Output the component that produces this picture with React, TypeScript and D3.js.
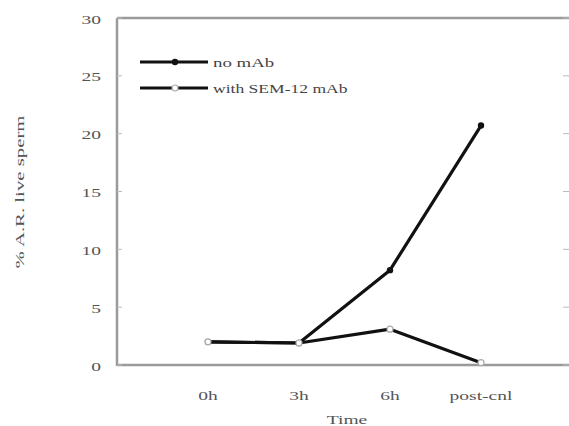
import React from 'react';
import * as d3 from 'd3';

const times = ['0h', '3h', '6h', 'post-cnl'];
const noMAb = [2.0, 1.9, 8.2, 20.7];
const withSEM12 = [2.0, 1.9, 3.1, 0.2];
const yTicks = [0, 5, 10, 15, 20, 25, 30];

const W = 569;
const H = 426;
const frame = { left: 117, right: 572, top: 18, bottom: 365 };
const font = '"Liberation Serif", "DejaVu Serif", serif';

// text drawn wider than normal, the scanned figure is stretched along the text
function Label(props: { x: number; y: number; anchor?: string; rotate?: number; stretch?: number; fill?: string; children: React.ReactNode }) {
    const { x, y, anchor = 'start', rotate = 0, stretch = 1.5, fill = '#555', children } = props;
    return (
        <text
            transform={`translate(${x}, ${y}) rotate(${rotate}) scale(${stretch}, 1)`}
            textAnchor={anchor}
            dy="0.35em"
            fontFamily={font}
            fontSize={13}
            fill={fill}
        >
            {children}
        </text>
    );
}

export default function App() {
    const x = d3.scalePoint<string>()
        .domain(times)
        .range([frame.left, frame.right])
        .padding(1);

    const y = d3.scaleLinear()
        .domain([0, 30])
        .range([frame.bottom, frame.top]);

    const line = d3.line<number>()
        .x((_, i) => x(times[i]) ?? 0)
        .y((d) => y(d));

    const axisColor = '#9a9a9a';

    return (
        <svg width={W} height={H} style={{ position: 'absolute', left: 0, top: 0, background: '#fff' }}>
            {/* frame */}
            <line x1={frame.left} y1={frame.top} x2={frame.left} y2={frame.bottom + 1} stroke={axisColor} strokeWidth={2.5} />
            <line x1={frame.left} y1={frame.bottom} x2={frame.right} y2={frame.bottom} stroke={axisColor} strokeWidth={2.5} />
            <line x1={frame.left} y1={frame.top} x2={frame.right} y2={frame.top} stroke={axisColor} strokeWidth={2.5} />

            {/* y ticks, left and right, pointing inward */}
            {yTicks.map((t) => (
                <g key={t}>
                    <line x1={frame.left} x2={frame.left + 5} y1={y(t)} y2={y(t)} stroke="#bbb" strokeWidth={1} />
                    <line x1={W - 6} x2={W} y1={y(t)} y2={y(t)} stroke="#bbb" strokeWidth={1} />
                    <Label x={101} y={y(t) + 1} anchor="end">{t}</Label>
                </g>
            ))}

            {/* x labels */}
            {times.map((t) => (
                <Label key={t} x={x(t) ?? 0} y={395} anchor="middle">{t}</Label>
            ))}
            <Label x={347} y={419} anchor="middle">Time</Label>
            <Label x={19} y={192} anchor="middle" rotate={-90} stretch={1.6}>% A.R. live sperm</Label>

            {/* series */}
            <path d={line(noMAb) ?? ''} fill="none" stroke="#111" strokeWidth={3.2} strokeLinejoin="round" />
            <path d={line(withSEM12) ?? ''} fill="none" stroke="#111" strokeWidth={3.2} strokeLinejoin="round" />
            {noMAb.map((v, i) => (
                <circle key={'a' + i} cx={x(times[i])} cy={y(v)} r={3.2} fill="#111" />
            ))}
            {withSEM12.map((v, i) => (
                <circle key={'b' + i} cx={x(times[i])} cy={y(v)} r={3} fill="#fff" stroke="#aaa" strokeWidth={1.2} />
            ))}

            {/* legend */}
            <line x1={140} x2={208} y1={62} y2={62} stroke="#111" strokeWidth={3.2} />
            <circle cx={175} cy={62} r={3.2} fill="#111" />
            <Label x={213} y={62} stretch={1.45} fill="#444">no mAb</Label>
            <line x1={140} x2={208} y1={88} y2={88} stroke="#111" strokeWidth={3.2} />
            <circle cx={175} cy={88} r={3} fill="#fff" stroke="#aaa" strokeWidth={1.2} />
            <Label x={213} y={88} stretch={1.35} fill="#444">with SEM-12 mAb</Label>
        </svg>
    );
}
